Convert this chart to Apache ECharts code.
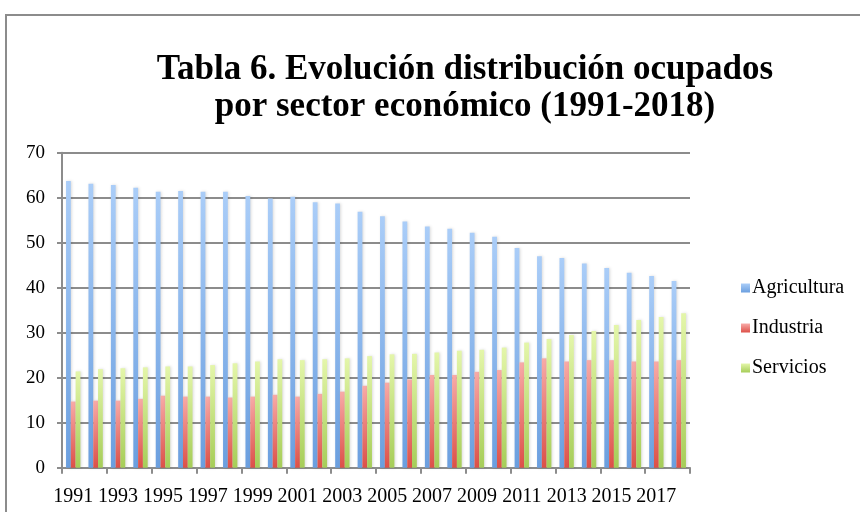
<!DOCTYPE html>
<html><head><meta charset="utf-8">
<script src="https://cdn.jsdelivr.net/npm/echarts@6/dist/echarts.min.js"></script>
<style>html,body{margin:0;padding:0;background:#fff}#c{width:860px;height:512px}</style>
</head><body><div id="c"></div>
<script>
var years = ['1991','1992','1993','1994','1995','1996','1997','1998','1999','2000','2001','2002','2003','2004','2005','2006','2007','2008','2009','2010','2011','2012','2013','2014','2015','2016','2017','2018'];
var agricultura = [63.7,63.1,62.8,62.2,61.3,61.5,61.3,61.3,60.4,59.8,60.2,59.0,58.7,56.9,55.9,54.7,53.6,53.1,52.2,51.3,48.8,47.0,46.6,45.4,44.4,43.3,42.6,41.5];
var industria = [14.7,14.9,14.9,15.3,16.0,15.8,15.8,15.6,15.8,16.2,15.8,16.4,16.9,18.2,18.9,19.6,20.6,20.6,21.3,21.7,23.4,24.3,23.6,23.9,23.9,23.6,23.6,23.9];
var servicios = [21.4,21.9,22.1,22.3,22.5,22.5,22.8,23.2,23.6,24.1,23.9,24.1,24.3,24.8,25.2,25.3,25.6,26.0,26.2,26.7,27.8,28.6,29.5,30.4,31.7,32.8,33.5,34.3];
var yTicks = [0,10,20,30,40,50,60,70];

function grad(top, bottom){
  return new echarts.graphic.LinearGradient(0,0,0,1,[{offset:0,color:top},{offset:1,color:bottom}]);
}
var F = '"Liberation Serif", "DejaVu Serif", serif';
var chart = echarts.init(document.getElementById('c'));
chart.setOption({
  animation:false,
  backgroundColor:'#fff',
  title:{
    text:'Tabla 6. Evolución distribución ocupados\npor sector económico (1991-2018)',
    left:460, top:46, textAlign:'center',
    textStyle:{fontFamily:F, fontWeight:'bold', fontSize:35, lineHeight:37, color:'#000'}
  },
  graphic:[{type:'rect', shape:{x:6,y:15,width:900,height:520}, style:{fill:'none', stroke:'#8c8c8c', lineWidth:2}, silent:true, z:-1}],
  legend:{
    orient:'vertical', left:736, top:273, itemWidth:9, itemHeight:9, itemGap:20,
    icon:'rect',
    textStyle:{fontFamily:F, fontSize:20, color:'#000', padding:[0,0,0,-3]},
    data:['Agricultura','Industria','Servicios']
  },
  grid:{left:62, right:170, top:152.7, bottom:44.3, containLabel:false},
  xAxis:{
    type:'category', data:years,
    axisLine:{lineStyle:{color:'#8c8c8c', width:2}},
    axisTick:{show:true, length:6, lineStyle:{color:'#8c8c8c', width:2}},
    axisLabel:{interval:1, fontFamily:F, fontSize:20, color:'#000', margin:19}
  },
  yAxis:{
    type:'value', min:0, max:70, interval:10,
    axisLine:{show:true, lineStyle:{color:'#8c8c8c', width:2}},
    axisTick:{show:true, length:5, lineStyle:{color:'#8c8c8c', width:2}},
    splitLine:{lineStyle:{color:'#8c8c8c', width:2}},
    axisLabel:{fontFamily:F, fontSize:19, color:'#000', margin:17,
      formatter:function(v){return yTicks.indexOf(v)>=0?String(v):'';}}
  },
  series:[
    {name:'Agricultura', type:'bar', data:agricultura, barGap:'0%', barCategoryGap:'36%',
      itemStyle:{color:grad('#aacdf8','#6b9fdf'), shadowColor:'rgba(0,0,0,0.15)', shadowBlur:3, shadowOffsetX:1}},
    {name:'Industria', type:'bar', data:industria,
      itemStyle:{color:grad('#f8aba8','#dd5048'), shadowColor:'rgba(0,0,0,0.15)', shadowBlur:3, shadowOffsetX:1}},
    {name:'Servicios', type:'bar', data:servicios,
      itemStyle:{color:grad('#e4f6aa','#a6cd58'), shadowColor:'rgba(0,0,0,0.15)', shadowBlur:3, shadowOffsetX:1}}
  ]
});
</script></body></html>
